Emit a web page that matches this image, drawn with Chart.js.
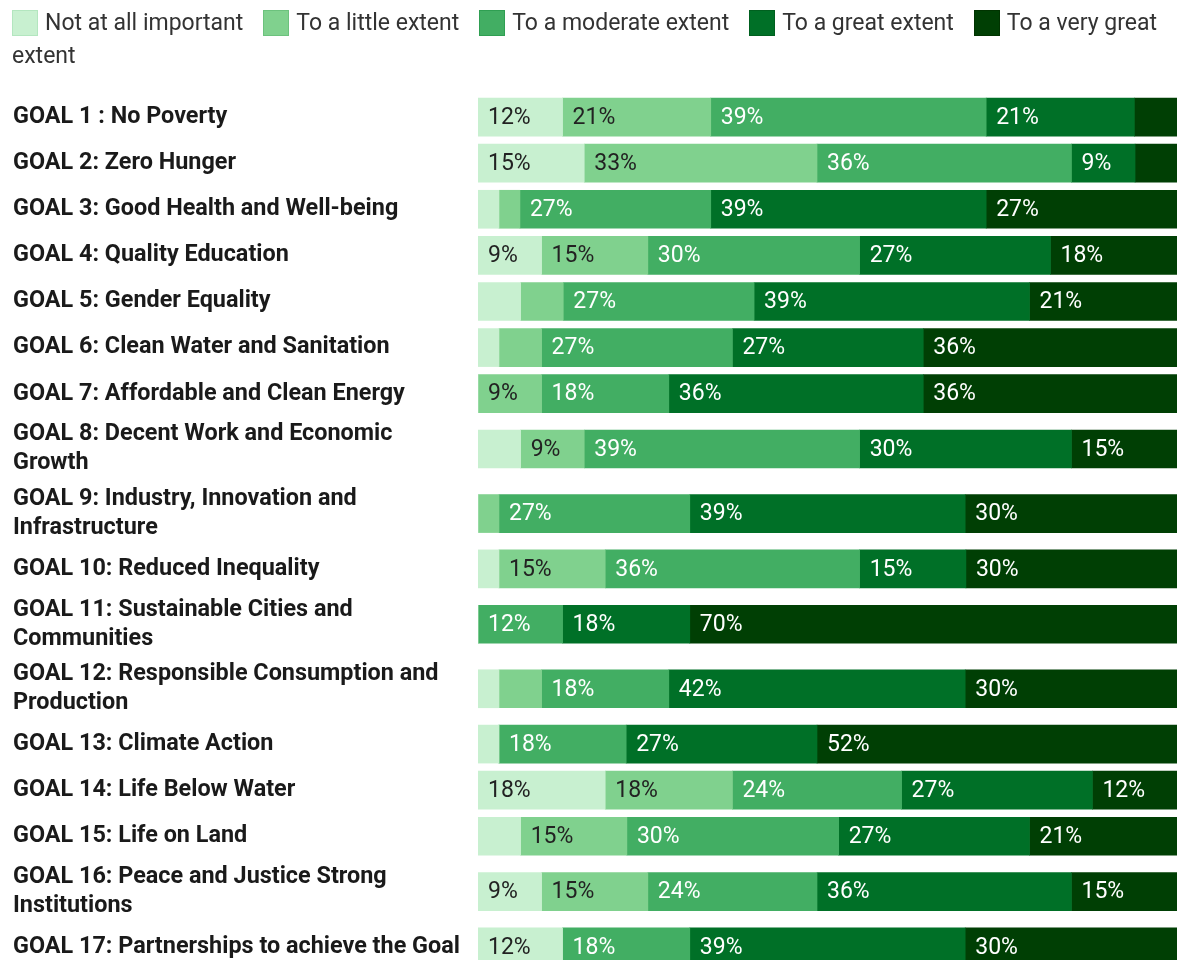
<!DOCTYPE html>
<html>
<head>
<meta charset="utf-8">
<title>SDG importance</title>
<script src="https://cdn.jsdelivr.net/npm/chart.js@4.4.1/dist/chart.umd.min.js"></script>
<style>
    body { margin: 0; background: #fff; overflow: hidden; font-family: Roboto, sans-serif; }
    #wrap { position: absolute; left: 0; top: 0; width: 1177px; height: 1000px; }
    #legend { position: absolute; left: 12px; top: 6px; right: 0; font-size: 23px; line-height: 33px; color: #333; }
    .legend-box { display: inline-block; width: 24px; height: 24px; border: 1px solid; vertical-align: middle; margin-right: 7px; position: relative; top: -1px; }
    .legend-text { margin-right: 20px; }
</style>
</head>
<body>
<div id="wrap"><canvas id="sdgChart"></canvas></div>
<div id="legend"></div>
<script>
// 目標ラベル (折り返しは元の図のとおり)
const goals = [
    ['GOAL 1 : No Poverty'],
    ['GOAL 2: Zero Hunger'],
    ['GOAL 3: Good Health and Well-being'],
    ['GOAL 4: Quality Education'],
    ['GOAL 5: Gender Equality'],
    ['GOAL 6: Clean Water and Sanitation'],
    ['GOAL 7: Affordable and Clean Energy'],
    ['GOAL 8: Decent Work and Economic', 'Growth'],
    ['GOAL 9: Industry, Innovation and', 'Infrastructure'],
    ['GOAL 10: Reduced Inequality'],
    ['GOAL 11: Sustainable Cities and', 'Communities'],
    ['GOAL 12: Responsible Consumption and', 'Production'],
    ['GOAL 13: Climate Action'],
    ['GOAL 14: Life Below Water'],
    ['GOAL 15: Life on Land'],
    ['GOAL 16: Peace and Justice Strong', 'Institutions'],
    ['GOAL 17: Partnerships to achieve the Goal']
];

const levels = ['Not at all important', 'To a little extent', 'To a moderate extent', 'To a great extent', 'To a very great extent'];

// 割合 (%)
const notAtAll  = [12.1, 15.2, 3.0, 9.1, 6.1, 3.0, 0, 6.1, 0, 3.0, 0, 3.0, 3.0, 18.2, 6.1, 9.1, 12.1];
const little    = [21.2, 33.3, 3.0, 15.2, 6.1, 6.1, 9.1, 9.1, 3.0, 15.2, 0, 6.1, 0, 18.2, 15.2, 15.2, 0];
const moderate  = [39.4, 36.4, 27.3, 30.3, 27.3, 27.3, 18.2, 39.4, 27.3, 36.4, 12.1, 18.2, 18.2, 24.2, 30.3, 24.2, 18.2];
const great     = [21.2, 9.1, 39.4, 27.3, 39.4, 27.3, 36.4, 30.3, 39.4, 15.2, 18.2, 42.4, 27.3, 27.3, 27.3, 36.4, 39.4];
const veryGreat = [6.1, 6.1, 27.3, 18.2, 21.2, 36.4, 36.4, 15.2, 30.3, 30.3, 69.7, 30.3, 51.5, 12.1, 21.2, 15.2, 30.3];

const colors = ['#c8f0d0', '#80d18e', '#42ae63', '#007027', '#003f04'];
const borders = ['#b3e6bf', '#6cc27d', '#2f9f52', '#00601f', '#003300'];

document.addEventListener('DOMContentLoaded', function() {
    // 2行ラベルの行は少し高くする
    const rowPos = [];
    let acc = 0;
    goals.forEach(g => {
        const h = g.length > 1 ? 1.4 : 1;
        rowPos.push(acc + h / 2);
        acc += h;
    });
    const totalRows = acc;

    const series = [notAtAll, little, moderate, great, veryGreat];
    const datasets = series.map((values, i) => ({
        label: levels[i],
        data: values.map((v, j) => ({ x: v, y: rowPos[j] })),
        backgroundColor: colors[i],
        borderWidth: 0,
        barThickness: 38
    }));

    const barLabels = {
        id: 'barLabels',
        afterDatasetsDraw(chart) {
            const ctx = chart.ctx;
            ctx.save();
            ctx.font = '23px Roboto';
            ctx.textBaseline = 'middle';
            ctx.textAlign = 'left';
            chart.data.datasets.forEach((ds, i) => {
                const meta = chart.getDatasetMeta(i);
                meta.data.forEach((bar, j) => {
                    const v = ds.data[j].x;
                    if (v < 8) return;  // 細いところは表示しない
                    const p = bar.getProps(['x', 'y', 'base'], true);
                    ctx.fillStyle = i < 2 ? '#222' : '#fff';
                    ctx.fillText(Math.round(v) + '%', Math.min(p.base, p.x) + 10, p.y + 1);
                });
            });
            ctx.restore();
        }
    };

    const ctx = document.getElementById('sdgChart').getContext('2d');
    const chart = new Chart(ctx, {
        type: 'bar',
        data: { datasets: datasets },
        plugins: [barLabels],
        options: {
            indexAxis: 'y',
            responsive: true,
            maintainAspectRatio: false,
            animation: false,
            layout: {
                padding: { top: 94, bottom: 30, left: 13, right: 0 }
            },
            scales: {
                x: {
                    type: 'linear',
                    stacked: true,
                    min: 0,
                    max: 100,
                    display: false
                },
                y: {
                    type: 'linear',
                    stacked: true,
                    reverse: true,
                    offset: false,
                    min: 0,
                    max: totalRows,
                    bounds: 'data',
                    grid: { display: false, offset: false },
                    border: { display: false },
                    afterDataLimits: scale => {
                        scale.min = 0;
                        scale.max = totalRows;
                    },
                    afterBuildTicks: scale => {
                        scale.ticks = rowPos.map(v => ({ value: v }));
                    },
                    afterFit: scale => {
                        scale.width = 465;
                        scale.paddingTop = 0;
                        scale.paddingBottom = 0;
                    },
                    ticks: {
                        autoSkip: false,
                        crossAlign: 'far',
                        padding: 0,
                        color: '#1a1a1a',
                        font: { family: 'Roboto', size: 23.4, weight: 'bold', lineHeight: 1.24 },
                        callback: (value, index) => goals[index]
                    }
                }
            },
            plugins: {
                legend: { display: false },
                tooltip: { enabled: false }
            }
        }
    });

    // 凡例は HTML で (最後の項目が折り返すため)
    const legendContainer = document.getElementById('legend');
    legendContainer.innerHTML = '';
    chart.data.datasets.forEach((ds, i) => {
        legendContainer.innerHTML += `<span class="legend-box" style="background-color:${colors[i]};border-color:${borders[i]};"></span><span class="legend-text">${ds.label}</span>`;
    });
});
</script>
</body>
</html>
